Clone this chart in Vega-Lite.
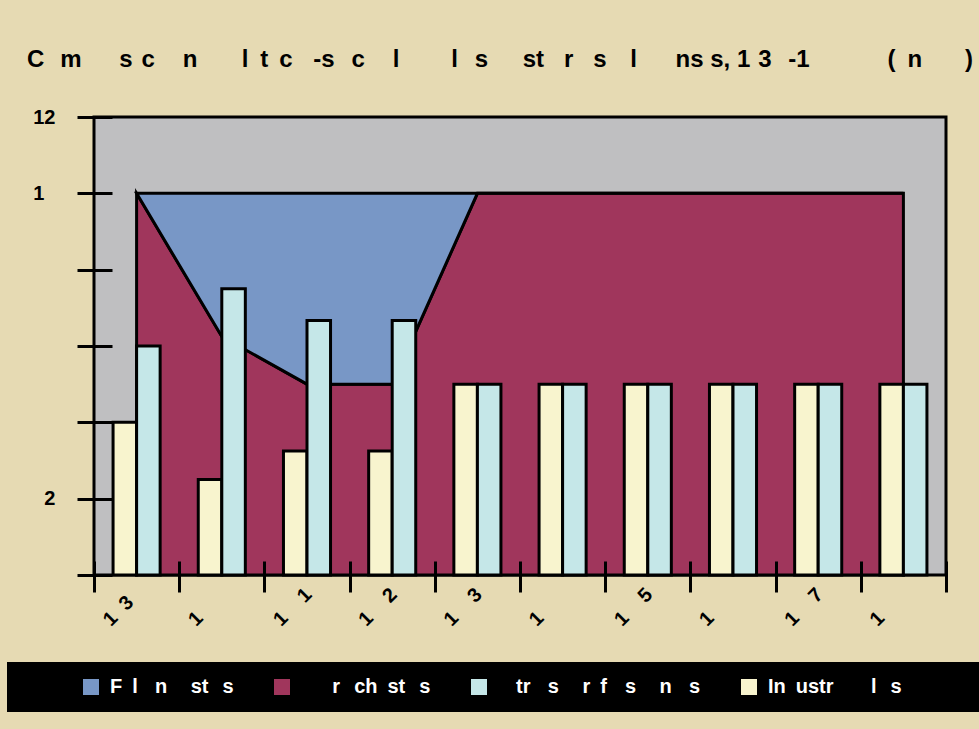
{
  "$schema": "https://vega.github.io/schema/vega-lite/v6.json",
  "width": 852,
  "height": 458,
  "autosize": {"type": "none"},
  "padding": {"left": 94, "top": 117, "right": 33, "bottom": 154},
  "background": "#E6DAB3",
  "config": {
    "font": "Liberation Sans",
    "view": {"fill": "#BFBFC1", "stroke": "black", "strokeWidth": 3}
  },
  "title": {
    "text": "C\u2002\u2006m\u2002\u2009\u2002\u2009\u2006s\u2009\u2006c\u2002\u2002\u2006n \u2002\u2009\u2002\u2009\u2006l\u2002t\u2009\u2005c\u2002\u2009\u2006-s\u2002\u2009c\u2002\u2002\u2006l \u2002\u2009\u2002\u2009\u2009 l\u2002\u2009s \u2002\u2002\u2006st\u2002\u2006\u2006r\u2002\u2006\u2006s \u2002\u2009l \u2002\u2002\u2006\u2006ns\u2008s, 1\u2006\u20063\u2002\u2009-1\u2002\u2009\u2002\u2009\u2002\u2009\u2002\u2009\u2006 (\u2002n \u2002\u2002\u2002)",
    "anchor": "start",
    "frame": "group",
    "dx": -67,
    "offset": 16,
    "fontSize": 24,
    "fontWeight": "bold",
    "color": "black",
    "baseline": "alphabetic"
  },
  "datasets": {
    "areas": [
      {"year": "1939", "series": "Derechistas", "value": 100},
      {"year": "1940", "series": "Derechistas", "value": 62.5},
      {"year": "1941", "series": "Derechistas", "value": 50},
      {"year": "1942", "series": "Derechistas", "value": 50},
      {"year": "1943", "series": "Derechistas", "value": 100},
      {"year": "1944", "series": "Derechistas", "value": 100},
      {"year": "1945", "series": "Derechistas", "value": 100},
      {"year": "1946", "series": "Derechistas", "value": 100},
      {"year": "1947", "series": "Derechistas", "value": 100},
      {"year": "1948", "series": "Derechistas", "value": 100},
      {"year": "1939", "series": "Falangistas", "value": 0},
      {"year": "1940", "series": "Falangistas", "value": 37.5},
      {"year": "1941", "series": "Falangistas", "value": 50},
      {"year": "1942", "series": "Falangistas", "value": 50},
      {"year": "1943", "series": "Falangistas", "value": 0},
      {"year": "1944", "series": "Falangistas", "value": 0},
      {"year": "1945", "series": "Falangistas", "value": 0},
      {"year": "1946", "series": "Falangistas", "value": 0},
      {"year": "1947", "series": "Falangistas", "value": 0},
      {"year": "1948", "series": "Falangistas", "value": 0}
    ],
    "bars": [
      {"year": "1939", "series": "Industriales", "value": 40},
      {"year": "1940", "series": "Industriales", "value": 25},
      {"year": "1941", "series": "Industriales", "value": 32.5},
      {"year": "1942", "series": "Industriales", "value": 32.5},
      {"year": "1943", "series": "Industriales", "value": 50},
      {"year": "1944", "series": "Industriales", "value": 50},
      {"year": "1945", "series": "Industriales", "value": 50},
      {"year": "1946", "series": "Industriales", "value": 50},
      {"year": "1947", "series": "Industriales", "value": 50},
      {"year": "1948", "series": "Industriales", "value": 50},
      {"year": "1939", "series": "Otras profesiones", "value": 60},
      {"year": "1940", "series": "Otras profesiones", "value": 75},
      {"year": "1941", "series": "Otras profesiones", "value": 66.7},
      {"year": "1942", "series": "Otras profesiones", "value": 66.7},
      {"year": "1943", "series": "Otras profesiones", "value": 50},
      {"year": "1944", "series": "Otras profesiones", "value": 50},
      {"year": "1945", "series": "Otras profesiones", "value": 50},
      {"year": "1946", "series": "Otras profesiones", "value": 50},
      {"year": "1947", "series": "Otras profesiones", "value": 50},
      {"year": "1948", "series": "Otras profesiones", "value": 50}
    ]
  },
  "layer": [
    {
      "data": {"name": "areas"},
      "mark": {"type": "area", "stroke": "black", "strokeWidth": 3, "opacity": 1},
      "encoding": {
        "x": {
          "field": "year", "type": "ordinal",
          "scale": {"type": "band", "paddingInner": 0, "paddingOuter": 0},
          "axis": {
            "title": null, "offset": -14, "domain": false, "tickBand": "extent",
            "tickSize": 31, "tickWidth": 3, "tickColor": "black",
            "labelAngle": -45, "labelFontSize": 20, "labelFontWeight": "bold", "labelColor": "black",
            "labelPadding": -8, "labelOffset": -6,
            "labelExpr": "replace(datum.label, regexp('[04689]', 'g'), '\u2007') + '\u2060'",
            "zindex": 1
          }
        },
        "y": {
          "field": "value", "type": "quantitative", "stack": "zero",
          "scale": {"domain": [0, 120], "nice": false},
          "axis": {
            "title": null, "offset": -18, "domain": false, "grid": false,
            "values": [0, 20, 40, 60, 80, 100, 120],
            "tickSize": 35, "tickWidth": 3, "tickColor": "black",
            "labelFontSize": 20, "labelFontWeight": "bold", "labelColor": "black", "labelPadding": 11,
            "labelExpr": "replace(datum.label, regexp('[04689]', 'g'), '\u2007') + '\u2060'",
            "zindex": 1
          }
        },
        "color": {
          "field": "series", "type": "nominal",
          "scale": {
            "domain": ["Falangistas", "Derechistas", "Otras profesiones", "Industriales"],
            "range": ["#7897C6", "#A0365C", "#C5E7E8", "#F8F4CE"]
          },
          "legend": {
            "orient": "none", "legendX": -87, "legendY": 545,
            "direction": "horizontal", "columns": 4,
            "title": "MMM", "titleOrient": "left", "titlePadding": 9, "titleFontSize": 20, "titleColor": "black",
            "fillColor": "black", "padding": 15,
            "symbolType": "square", "symbolSize": 256, "symbolStrokeWidth": 0, "symbolOpacity": 1,
            "labelColor": "white", "labelFontSize": 20, "labelFontWeight": "bold",
            "labelOffset": 9, "labelLimit": 400, "columnPadding": 38, "gridAlign": "none",
            "labelExpr": "datum.value == 'Falangistas' ? 'F\u2002l\u2002\u2009\u2006n\u2002\u2002\u2006st\u2002\u2009s' : datum.value == 'Derechistas' ? '\u2060\u2002\u2002\u2009\u2009\u2006r\u2002\u2009ch\u2002st\u2002\u2009s' : datum.value == 'Otras profesiones' ? '\u2060\u2002\u2009\u2009tr\u2002\u2009\u2006s \u2002\u2009\u2009r\u2002f\u2002\u2009\u2009s\u2002\u2002\u2006n\u2002\u2009\u2006s' : 'In\u2002ustr\u2002\u2002\u2002\u2009\u2006l\u2002\u2009s\u2002\u2002\u2002\u2002\u2002\u2002\u2009\u2060'"
          }
        },
        "order": {"field": "series", "sort": "ascending"}
      }
    },
    {
      "data": {"name": "bars"},
      "mark": {"type": "bar", "stroke": "black", "strokeWidth": 3, "opacity": 1},
      "encoding": {
        "x": {"field": "year", "type": "ordinal"},
        "xOffset": {
          "field": "series", "type": "nominal",
          "scale": {"domain": ["Industriales", "Otras profesiones"], "paddingInner": 0, "paddingOuter": 0.81}
        },
        "y": {"field": "value", "type": "quantitative", "stack": null},
        "color": {"field": "series", "type": "nominal"}
      }
    }
  ]
}
